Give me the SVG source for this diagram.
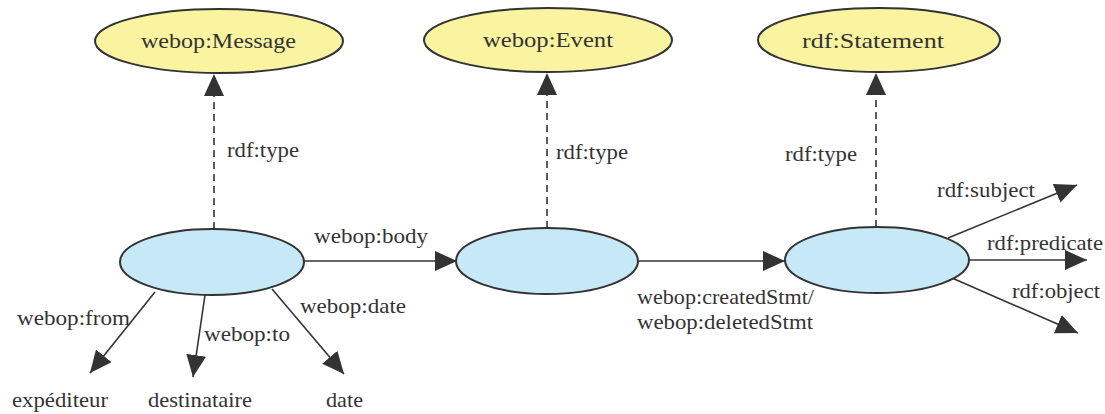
<svg xmlns="http://www.w3.org/2000/svg" width="1105" height="414" viewBox="0 0 1105 414">
<style>
  text{font-family:'Liberation Serif','Times New Roman','DejaVu Serif',serif;font-size:21px;fill:#333}
  .cls{fill:#faf3a0;stroke:#333;stroke-width:2}
  .res{fill:#c6e8f7;stroke:#333;stroke-width:2}
  .e{stroke:#333;stroke-width:1.6;fill:none;marker-end:url(#ah)}
  .d{stroke-dasharray:7,5}
</style>
<defs>
  <marker id="ah" viewBox="0 0 22 20" refX="22" refY="10" markerWidth="22" markerHeight="20" markerUnits="userSpaceOnUse" orient="auto">
    <path d="M0,0 L22,10 L0,20 z" fill="#333"/>
  </marker>
</defs>
<rect width="1105" height="414" fill="#fff"/>
<g id="connectors">
  <line class="e d" x1="214" y1="229" x2="214" y2="74"/>
  <line class="e d" x1="547" y1="228" x2="547" y2="73"/>
  <line class="e d" x1="876" y1="227" x2="876" y2="73"/>
  <line class="e" x1="304" y1="261" x2="457" y2="261"/>
  <line class="e" x1="638" y1="261" x2="785" y2="261"/>
  <line class="e" x1="155" y1="292" x2="90" y2="373"/>
  <line class="e" x1="205" y1="295" x2="193" y2="377"/>
  <line class="e" x1="272" y1="289" x2="344" y2="374"/>
  <line class="e" x1="948" y1="238" x2="1077" y2="185"/>
  <line class="e" x1="969" y1="260" x2="1087" y2="260"/>
  <line class="e" x1="952" y1="278" x2="1078" y2="333"/>
  <text x="227" y="157" textLength="72" lengthAdjust="spacingAndGlyphs">rdf:type</text>
  <text x="556" y="159" textLength="72" lengthAdjust="spacingAndGlyphs">rdf:type</text>
  <text x="785" y="161" textLength="72" lengthAdjust="spacingAndGlyphs">rdf:type</text>
  <text x="314" y="243" textLength="114" lengthAdjust="spacingAndGlyphs">webop:body</text>
  <text x="637" y="304" textLength="177" lengthAdjust="spacingAndGlyphs">webop:createdStmt/</text>
  <text x="637" y="329" textLength="176" lengthAdjust="spacingAndGlyphs">webop:deletedStmt</text>
  <text x="17" y="325" textLength="113" lengthAdjust="spacingAndGlyphs">webop:from</text>
  <text x="204" y="341" textLength="86" lengthAdjust="spacingAndGlyphs">webop:to</text>
  <text x="300" y="313" textLength="106" lengthAdjust="spacingAndGlyphs">webop:date</text>
  <text x="937" y="197" textLength="98" lengthAdjust="spacingAndGlyphs">rdf:subject</text>
  <text x="987" y="250" textLength="116" lengthAdjust="spacingAndGlyphs">rdf:predicate</text>
  <text x="1012" y="298" textLength="88" lengthAdjust="spacingAndGlyphs">rdf:object</text>
</g>
<g id="n-message-type">
  <ellipse class="cls" cx="219" cy="41" rx="124" ry="32"/>
  <text x="141" y="48" textLength="155" lengthAdjust="spacingAndGlyphs">webop:Message</text>
</g>
<g id="n-event-type">
  <ellipse class="cls" cx="548" cy="40" rx="124" ry="32"/>
  <text x="483" y="47" textLength="130" lengthAdjust="spacingAndGlyphs">webop:Event</text>
</g>
<g id="n-statement-type">
  <ellipse class="cls" cx="879" cy="40" rx="121" ry="32"/>
  <text x="802" y="48" textLength="142" lengthAdjust="spacingAndGlyphs">rdf:Statement</text>
</g>
<g id="n-message">
  <ellipse class="res" cx="212" cy="262" rx="92" ry="33"/>
</g>
<g id="n-event">
  <ellipse class="res" cx="547" cy="261" rx="91" ry="33"/>
</g>
<g id="n-statement">
  <ellipse class="res" cx="877" cy="260" rx="92" ry="33"/>
</g>
<g id="n-expediteur">
  <text x="12" y="407" textLength="96" lengthAdjust="spacingAndGlyphs">expéditeur</text>
</g>
<g id="n-destinataire">
  <text x="148" y="407" textLength="104" lengthAdjust="spacingAndGlyphs">destinataire</text>
</g>
<g id="n-date">
  <text x="326" y="407" textLength="37" lengthAdjust="spacingAndGlyphs">date</text>
</g>
</svg>
